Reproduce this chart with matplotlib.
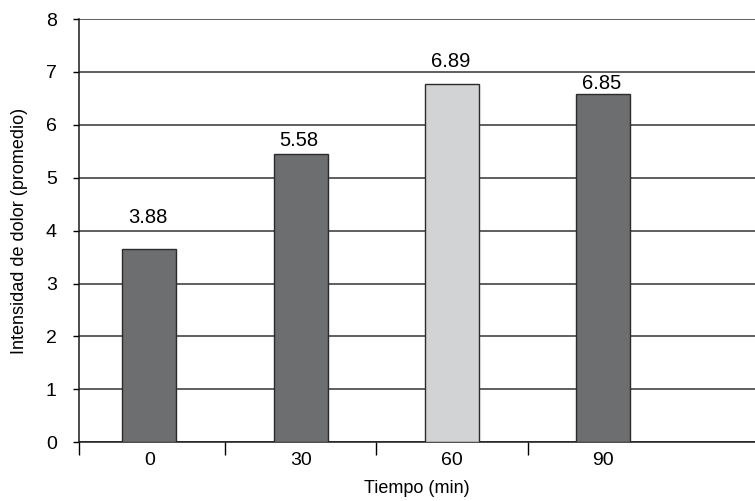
import matplotlib
matplotlib.use('Agg')
import matplotlib.pyplot as plt
from matplotlib.ticker import FixedLocator, NullFormatter, FixedFormatter

# values
tiempos = ['0', '30', '60', '90']
alturas = [3.65, 5.44, 6.77, 6.58]          # bar heights as drawn
etiquetas = ['3.88', '5.58', '6.89', '6.85']  # printed labels
etiqueta_y = [4.24, 5.71, 7.19, 6.79]        # where the labels sit

plt.rcParams['font.family'] = ['Liberation Sans', 'DejaVu Sans']

oscuro = '#6d6e70'
claro = '#d1d3d4'
colores = [oscuro, oscuro, claro, oscuro]

fig = plt.figure(figsize=(7.55, 5.01), dpi=100)
ax = fig.add_axes([0.1046, 0.1172, 0.8954, 0.8448])

x = list(range(len(tiempos)))
ax.bar(x, alturas, width=0.357, color=colores, edgecolor='#2b2b2b',
       linewidth=1.0, zorder=3)
for xi, txt, yy in zip(x, etiquetas, etiqueta_y):
  ax.text(xi - 0.01, yy, txt, ha='center', va='center', fontsize=14.5, zorder=4)

ax.set_ylim(0, 8)
ax.set_xlim(-0.466, 4.002)
ax.set_yticks(range(0, 9))
ax.yaxis.grid(True, color='#333333', linewidth=1.1, zorder=0)
ax.tick_params(axis='y', length=4, width=1.0, pad=12, labelsize=14)

ax.xaxis.set_major_locator(FixedLocator([-0.466, 0.5, 1.5, 2.5]))
ax.xaxis.set_major_formatter(NullFormatter())
ax.xaxis.set_minor_locator(FixedLocator(x))
ax.xaxis.set_minor_formatter(FixedFormatter(tiempos))
ax.tick_params(axis='x', which='major', length=9, width=1.0)
ax.tick_params(axis='x', which='minor', length=0, pad=7, labelsize=14)

for s in ['top', 'right']:
  ax.spines[s].set_visible(False)
for s in ['left', 'bottom']:
  ax.spines[s].set_linewidth(1.1)
  ax.spines[s].set_color('#1a1a1a')

ax.set_ylabel('Intensidad de dolor (promedio)', fontsize=13)
ax.yaxis.set_label_coords(-0.075, 0.5)
ax.set_xlabel('Tiempo (min)', fontsize=13)
ax.xaxis.set_label_coords(0.5, -0.088)

fig.savefig('out.png', dpi=100)
